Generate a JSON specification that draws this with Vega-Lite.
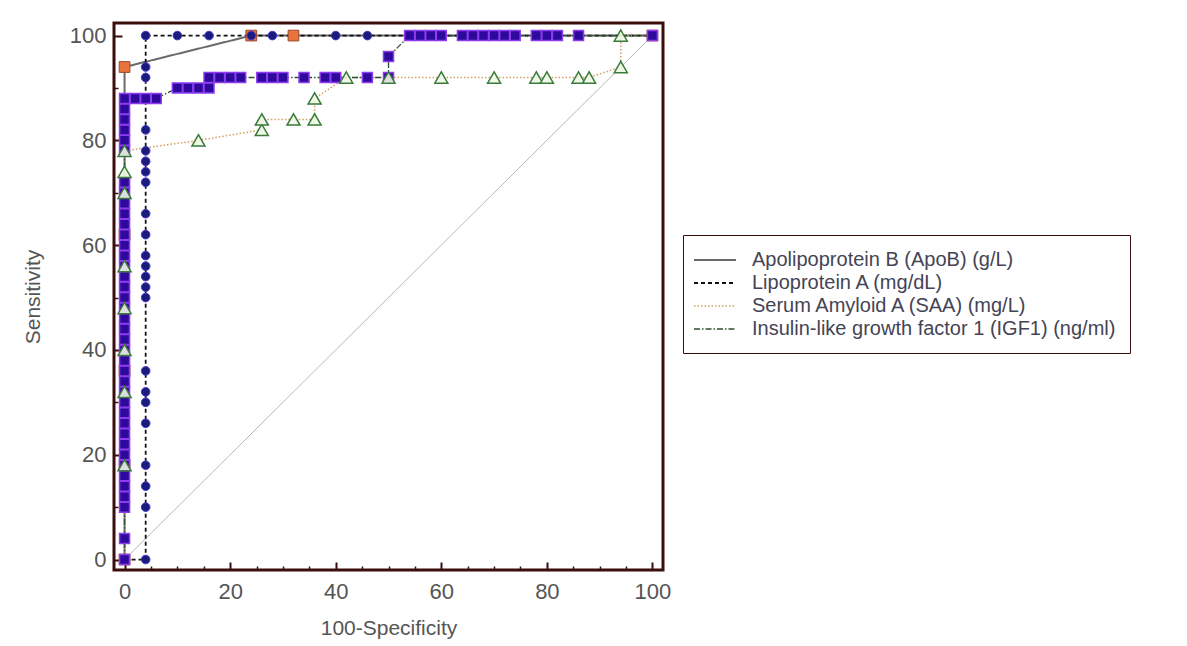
{
  "$schema": "https://vega.github.io/schema/vega-lite/v6.json",
  "width": 549,
  "height": 547,
  "autosize": {"type": "none"},
  "padding": {"left": 114, "top": 23, "right": 524, "bottom": 76},
  "background": "white",
  "config": {
    "font": "Liberation Sans",
    "view": {"stroke": "#3b0d0d", "strokeWidth": 3},
    "axis": {"grid": false, "domain": false, "labelFont": "Liberation Sans", "titleFont": "Liberation Sans", "labelColor": "#555", "titleColor": "#555", "labelFontSize": 22, "titleFontSize": 21, "titleFontWeight": "normal", "tickColor": "#3b0d0d"}
  },
  "datasets": {
    "diag": [{"x": 0, "y": 0}, {"x": 100, "y": 100}],
    "roc": [
      {"s":"ApoB","k":0,"x":0,"y":0},{"s":"ApoB","k":1,"x":0,"y":18},{"s":"ApoB","k":2,"x":0,"y":36},{"s":"ApoB","k":3,"x":0,"y":62},{"s":"ApoB","k":4,"x":0,"y":94},{"s":"ApoB","k":5,"x":24,"y":100},{"s":"ApoB","k":6,"x":32,"y":100},{"s":"ApoB","k":7,"x":100,"y":100},
      {"s":"LpA","k":0,"x":0,"y":0},{"s":"LpA","k":1,"x":4,"y":0},{"s":"LpA","k":2,"x":4,"y":10},{"s":"LpA","k":3,"x":4,"y":14},{"s":"LpA","k":4,"x":4,"y":18},{"s":"LpA","k":5,"x":4,"y":26},{"s":"LpA","k":6,"x":4,"y":30},{"s":"LpA","k":7,"x":4,"y":32},{"s":"LpA","k":8,"x":4,"y":36},{"s":"LpA","k":9,"x":4,"y":50},{"s":"LpA","k":10,"x":4,"y":52},{"s":"LpA","k":11,"x":4,"y":54},{"s":"LpA","k":12,"x":4,"y":56},{"s":"LpA","k":13,"x":4,"y":58},{"s":"LpA","k":14,"x":4,"y":62},{"s":"LpA","k":15,"x":4,"y":66},{"s":"LpA","k":16,"x":4,"y":72},{"s":"LpA","k":17,"x":4,"y":74},{"s":"LpA","k":18,"x":4,"y":76},{"s":"LpA","k":19,"x":4,"y":78},{"s":"LpA","k":20,"x":4,"y":82},{"s":"LpA","k":21,"x":4,"y":92},{"s":"LpA","k":22,"x":4,"y":94},{"s":"LpA","k":23,"x":4,"y":100},{"s":"LpA","k":24,"x":10,"y":100},{"s":"LpA","k":25,"x":16,"y":100},{"s":"LpA","k":26,"x":24,"y":100},{"s":"LpA","k":27,"x":28,"y":100},{"s":"LpA","k":28,"x":40,"y":100},{"s":"LpA","k":29,"x":46,"y":100},{"s":"LpA","k":30,"x":100,"y":100},
      {"s":"SAA","k":0,"x":0,"y":0},{"s":"SAA","k":1,"x":0,"y":18},{"s":"SAA","k":2,"x":0,"y":32},{"s":"SAA","k":3,"x":0,"y":40},{"s":"SAA","k":4,"x":0,"y":48},{"s":"SAA","k":5,"x":0,"y":56},{"s":"SAA","k":6,"x":0,"y":70},{"s":"SAA","k":7,"x":0,"y":74},{"s":"SAA","k":8,"x":0,"y":78},{"s":"SAA","k":9,"x":14,"y":80},{"s":"SAA","k":10,"x":26,"y":82},{"s":"SAA","k":11,"x":26,"y":84},{"s":"SAA","k":12,"x":32,"y":84},{"s":"SAA","k":13,"x":36,"y":84},{"s":"SAA","k":14,"x":36,"y":88},{"s":"SAA","k":15,"x":42,"y":92},{"s":"SAA","k":16,"x":50,"y":92},{"s":"SAA","k":17,"x":60,"y":92},{"s":"SAA","k":18,"x":70,"y":92},{"s":"SAA","k":19,"x":78,"y":92},{"s":"SAA","k":20,"x":80,"y":92},{"s":"SAA","k":21,"x":86,"y":92},{"s":"SAA","k":22,"x":88,"y":92},{"s":"SAA","k":23,"x":94,"y":94},{"s":"SAA","k":24,"x":94,"y":100},{"s":"SAA","k":25,"x":100,"y":100},
      {"s":"IGF1","k":0,"x":0,"y":0},{"s":"IGF1","k":1,"x":0,"y":4},{"s":"IGF1","k":2,"x":0,"y":10},{"s":"IGF1","k":3,"x":0,"y":12},{"s":"IGF1","k":4,"x":0,"y":14},{"s":"IGF1","k":5,"x":0,"y":16},{"s":"IGF1","k":6,"x":0,"y":18},{"s":"IGF1","k":7,"x":0,"y":20},{"s":"IGF1","k":8,"x":0,"y":22},{"s":"IGF1","k":9,"x":0,"y":24},{"s":"IGF1","k":10,"x":0,"y":26},{"s":"IGF1","k":11,"x":0,"y":28},{"s":"IGF1","k":12,"x":0,"y":30},{"s":"IGF1","k":13,"x":0,"y":32},{"s":"IGF1","k":14,"x":0,"y":34},{"s":"IGF1","k":15,"x":0,"y":36},{"s":"IGF1","k":16,"x":0,"y":38},{"s":"IGF1","k":17,"x":0,"y":40},{"s":"IGF1","k":18,"x":0,"y":42},{"s":"IGF1","k":19,"x":0,"y":44},{"s":"IGF1","k":20,"x":0,"y":46},{"s":"IGF1","k":21,"x":0,"y":48},{"s":"IGF1","k":22,"x":0,"y":50},{"s":"IGF1","k":23,"x":0,"y":52},{"s":"IGF1","k":24,"x":0,"y":54},{"s":"IGF1","k":25,"x":0,"y":56},{"s":"IGF1","k":26,"x":0,"y":58},{"s":"IGF1","k":27,"x":0,"y":60},{"s":"IGF1","k":28,"x":0,"y":62},{"s":"IGF1","k":29,"x":0,"y":64},{"s":"IGF1","k":30,"x":0,"y":66},{"s":"IGF1","k":31,"x":0,"y":68},{"s":"IGF1","k":32,"x":0,"y":70},{"s":"IGF1","k":33,"x":0,"y":72},{"s":"IGF1","k":34,"x":0,"y":78},{"s":"IGF1","k":35,"x":0,"y":80},{"s":"IGF1","k":36,"x":0,"y":82},{"s":"IGF1","k":37,"x":0,"y":84},{"s":"IGF1","k":38,"x":0,"y":86},{"s":"IGF1","k":39,"x":0,"y":88},{"s":"IGF1","k":40,"x":2,"y":88},{"s":"IGF1","k":41,"x":4,"y":88},{"s":"IGF1","k":42,"x":6,"y":88},{"s":"IGF1","k":43,"x":10,"y":90},{"s":"IGF1","k":44,"x":12,"y":90},{"s":"IGF1","k":45,"x":14,"y":90},{"s":"IGF1","k":46,"x":16,"y":90},{"s":"IGF1","k":47,"x":16,"y":92},{"s":"IGF1","k":48,"x":18,"y":92},{"s":"IGF1","k":49,"x":20,"y":92},{"s":"IGF1","k":50,"x":22,"y":92},{"s":"IGF1","k":51,"x":26,"y":92},{"s":"IGF1","k":52,"x":28,"y":92},{"s":"IGF1","k":53,"x":30,"y":92},{"s":"IGF1","k":54,"x":34,"y":92},{"s":"IGF1","k":55,"x":38,"y":92},{"s":"IGF1","k":56,"x":40,"y":92},{"s":"IGF1","k":57,"x":46,"y":92},{"s":"IGF1","k":58,"x":50,"y":92},{"s":"IGF1","k":59,"x":50,"y":96},{"s":"IGF1","k":60,"x":54,"y":100},{"s":"IGF1","k":61,"x":56,"y":100},{"s":"IGF1","k":62,"x":58,"y":100},{"s":"IGF1","k":63,"x":60,"y":100},{"s":"IGF1","k":64,"x":64,"y":100},{"s":"IGF1","k":65,"x":66,"y":100},{"s":"IGF1","k":66,"x":68,"y":100},{"s":"IGF1","k":67,"x":70,"y":100},{"s":"IGF1","k":68,"x":72,"y":100},{"s":"IGF1","k":69,"x":74,"y":100},{"s":"IGF1","k":70,"x":78,"y":100},{"s":"IGF1","k":71,"x":80,"y":100},{"s":"IGF1","k":72,"x":82,"y":100},{"s":"IGF1","k":73,"x":86,"y":100},{"s":"IGF1","k":74,"x":100,"y":100}
    ]
  },
  "resolve": {"axis": {"x": "independent", "y": "independent"}},
  "layer": [
    {
      "data": {"name": "diag"},
      "mark": {"type": "line", "color": "#b8b8b8", "strokeWidth": 1},
      "encoding": {
        "x": {"field": "x", "type": "quantitative", "scale": {"domain": [-2, 102], "nice": false, "zero": false},
              "axis": {"values": [0, 20, 40, 60, 80, 100], "title": "100-Specificity", "orient": "bottom", "tickSize": -8, "tickWidth": 2, "labelPadding": 19, "titlePadding": 15}},
        "y": {"field": "y", "type": "quantitative", "scale": {"domain": [-2, 102.4], "nice": false, "zero": false},
              "axis": {"values": [0, 20, 40, 60, 80, 100], "title": "Sensitivity", "orient": "left", "tickSize": -8, "tickWidth": 2, "labelPadding": 16, "titlePadding": 26}}
      }
    },
    {
      "data": {"name": "roc"},
      "mark": {"type": "line"},
      "encoding": {
        "x": {"field": "x", "type": "quantitative",
              "axis": {"values": [5,10,15,25,30,35,45,50,55,65,70,75,85,90,95], "labels": false, "title": null, "orient": "bottom", "tickSize": -4, "tickWidth": 1.5}},
        "y": {"field": "y", "type": "quantitative",
              "axis": {"values": [10,30,50,70,90], "labels": false, "title": null, "orient": "left", "tickSize": -4, "tickWidth": 1.5}},
        "order": {"field": "k", "type": "quantitative"},
        "stroke": {"field": "s", "type": "nominal",
                   "scale": {"domain": ["ApoB", "LpA", "SAA", "IGF1"], "range": ["#6a6a6a", "#111111", "#d2a062", "#2d4f2d"]},
                   "legend": {"title": null, "orient": "none", "legendX": 569, "legendY": 212, "symbolType": "M-1.4,0H2.8", "symbolSize": 400,
                              "labelFontSize": 20, "labelColor": "#444455", "labelFont": "Liberation Sans", "labelOffset": 33, "labelLimit": 600,
                              "rowPadding": 2, "padding": 14, "strokeColor": "#3b0d0d", "fillColor": "white",
                              "labelExpr": "datum.label == 'ApoB' ? 'Apolipoprotein B (ApoB) (g/L)' : datum.label == 'LpA' ? 'Lipoprotein A (mg/dL)' : datum.label == 'SAA' ? 'Serum Amyloid A (SAA) (mg/L)' : 'Insulin-like growth factor 1 (IGF1) (ng/ml)'"}},
        "strokeDash": {"field": "s", "type": "nominal",
                       "scale": {"domain": ["ApoB", "LpA", "SAA", "IGF1"], "range": [[1, 0], [4, 3], [1.5, 2], [6, 2, 1.5, 2]]}},
        "strokeWidth": {"field": "s", "type": "nominal",
                        "scale": {"domain": ["ApoB", "LpA", "SAA", "IGF1"], "range": [2, 1.3, 1.3, 1.3]}}
      }
    },
    {
      "data": {"name": "roc"},
      "transform": [{"filter": "datum.s == 'ApoB'"}],
      "mark": {"type": "point", "shape": "square", "size": 115, "filled": true, "fill": "#e8733d", "stroke": "#9a4a2a", "strokeWidth": 1, "opacity": 1},
      "encoding": {"x": {"field": "x", "type": "quantitative", "axis": null}, "y": {"field": "y", "type": "quantitative", "axis": null}}
    },
    {
      "data": {"name": "roc"},
      "transform": [{"filter": "datum.s == 'LpA'"}],
      "mark": {"type": "point", "shape": "circle", "size": 75, "filled": true, "fill": "#1b1b7e", "stroke": "#4a3cc8", "strokeWidth": 1, "opacity": 1},
      "encoding": {"x": {"field": "x", "type": "quantitative", "axis": null}, "y": {"field": "y", "type": "quantitative", "axis": null}}
    },
    {
      "data": {"name": "roc"},
      "transform": [{"filter": "datum.s == 'IGF1'"}],
      "mark": {"type": "point", "shape": "square", "size": 100, "filled": true, "fill": "#2e0a9c", "stroke": "#8f3cf0", "strokeWidth": 1.5, "opacity": 1},
      "encoding": {"x": {"field": "x", "type": "quantitative", "axis": null}, "y": {"field": "y", "type": "quantitative", "axis": null}}
    },
    {
      "data": {"name": "roc"},
      "transform": [{"filter": "datum.s == 'SAA' && datum.x < 100 && datum.y > 0"}],
      "mark": {"type": "point", "shape": "triangle-up", "size": 170, "filled": true, "fill": "#eef7e6", "fillOpacity": 0.9, "stroke": "#3a7a3a", "strokeWidth": 1.5, "opacity": 1},
      "encoding": {"x": {"field": "x", "type": "quantitative", "axis": null}, "y": {"field": "y", "type": "quantitative", "axis": null}}
    }
  ]
}
